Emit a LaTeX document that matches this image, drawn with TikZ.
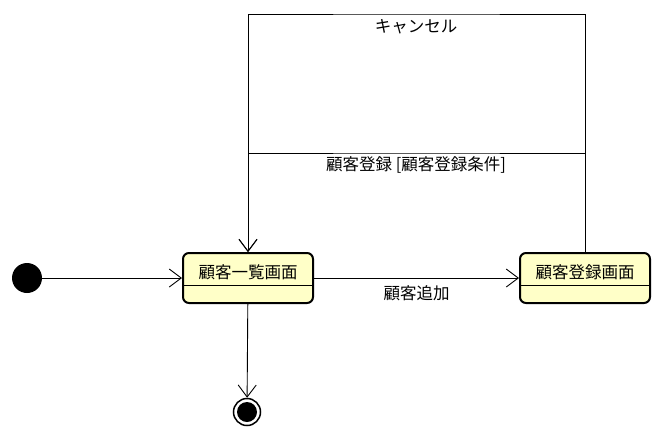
\documentclass[tikz,border=0pt]{standalone}
\usepackage{fontspec}
\setmainfont{Noto Sans CJK JP}
\usetikzlibrary{arrows.meta,positioning}
\definecolor{stateyellow}{HTML}{FFFFC8}

\begin{document}
\begin{tikzpicture}[x=1pt,y=-1pt,
    state/.style={draw,line width=2pt,rounded corners=6pt,fill=stateyellow,minimum width=130pt,
        text height=22pt,text depth=22pt,inner ysep=3pt,font=\fontsize{16.5}{18}\selectfont},
    trans/.style={-{Straight Barb[length=12pt,width=18pt]},line width=0.9pt},
    lbl/.style={font=\fontsize{16.5}{18}\selectfont}]
    \useasboundingbox (0,0) rectangle (664,440);
    \node[fill,circle,minimum size=30pt,inner sep=0pt] (start) at (27,278) {};
    \node[state] (list) at (248,278) {顧客一覧画面};
    \node[state] (entry) at (585,278) {顧客登録画面};
    \draw[line width=0.8pt] ([yshift=-7pt]list.west) -- ([yshift=-7pt]list.east);
    \draw[line width=0.8pt] ([yshift=-7pt]entry.west) -- ([yshift=-7pt]entry.east);
    \node[circle,draw,line width=1.5pt,minimum size=27pt,inner sep=0pt] (end) at (247,412) {};
    \fill (end.center) circle (10pt);
    \coordinate (cancel) at (416,14);
    \coordinate (guard) at (416,153);
    \draw[trans] (start) -- (list);
    \draw[trans] (list) -- node[lbl,below=4pt] (addlbl) {顧客追加} (entry);
    \draw[trans] (list) -- (end);
    \draw[trans] (entry.north) |- (cancel) -| (list.north);
    \draw[trans] (entry.north) |- (guard) -| (list.north);
    \node[lbl,below=2pt of cancel] (cancellbl) {キャンセル};
    \node[lbl,below=0pt of guard] (guardlbl) {顧客登録 [顧客登録条件]};
\end{tikzpicture}
\end{document}
